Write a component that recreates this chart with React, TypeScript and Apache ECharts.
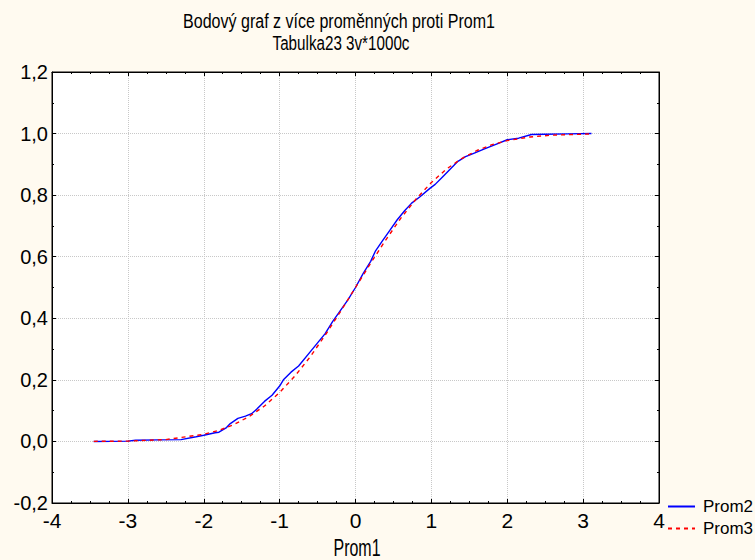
import React, { useEffect, useRef } from "react";
import * as echarts from "echarts";

const titleText = "Bodový graf z více proměnných proti Prom1";
const subtitleText = "Tabulka23 3v*1000c";
const xAxisName = "Prom1";
const seriesNames = ["Prom2", "Prom3"];

const prom1Blue = [-3.45, -3.0, -2.9, -2.6, -2.3, -2.1, -2.0, -1.85, -1.8, -1.7, -1.65, -1.55, -1.45, -1.37, -1.3, -1.2, -1.1, -1.0, -0.95, -0.85, -0.75, -0.6, -0.5, -0.4, -0.3, -0.2, -0.1, 0, 0.1, 0.2, 0.26, 0.35, 0.45, 0.55, 0.65, 0.74, 0.85, 0.98, 1.05, 1.15, 1.25, 1.35, 1.45, 1.55, 1.7, 1.85, 2.0, 2.15, 2.32, 2.5, 2.8, 3.11];
const prom2 = [0, 0.001, 0.004, 0.005, 0.006, 0.015, 0.02, 0.028, 0.03, 0.045, 0.058, 0.075, 0.082, 0.09, 0.105, 0.13, 0.15, 0.18, 0.2, 0.225, 0.245, 0.29, 0.32, 0.35, 0.39, 0.425, 0.46, 0.5, 0.545, 0.585, 0.617, 0.65, 0.685, 0.72, 0.75, 0.774, 0.795, 0.822, 0.835, 0.86, 0.885, 0.91, 0.925, 0.935, 0.95, 0.965, 0.98, 0.985, 0.997, 0.998, 0.999, 1.0];

const prom1Red = [-3.45, -3.0, -2.5, -2.0, -1.8, -1.6, -1.4, -1.2, -1.0, -0.8, -0.6, -0.4, -0.2, 0, 0.2, 0.4, 0.6, 0.8, 1.0, 1.2, 1.4, 1.6, 1.8, 2.0, 2.3, 2.6, 3.11];
const prom3 = [0.0003, 0.001, 0.006, 0.023, 0.036, 0.055, 0.081, 0.115, 0.159, 0.212, 0.274, 0.345, 0.421, 0.5, 0.579, 0.655, 0.726, 0.788, 0.841, 0.885, 0.919, 0.945, 0.964, 0.977, 0.989, 0.995, 0.999];

const xTicks = { min: -4, max: 4, interval: 1 };
const yTicks = { min: -0.2, max: 1.2, interval: 0.2 };

const FONT = "'Liberation Sans', Arial, sans-serif";
const BG = "#FFFAF0";

function measure(text: string, size: number): number {
  const c = document.createElement("canvas");
  const ctx = c.getContext("2d");
  if (!ctx) return text.length * size * 0.5;
  ctx.font = `${size}px ${FONT}`;
  return ctx.measureText(text).width;
}

function squeezedText(text: string, size: number, cx: number, cy: number, targetWidth: number) {
  const w = measure(text, size);
  return {
    type: "text",
    x: cx,
    y: cy,
    scaleX: targetWidth / w,
    scaleY: 1,
    silent: true,
    style: {
      text,
      fontFamily: FONT,
      fontSize: size,
      fill: "#000",
      align: "center",
      verticalAlign: "middle",
      textAlign: "center",
      textVerticalAlign: "middle",
    },
  };
}

export default function App() {
  const ref = useRef<HTMLDivElement>(null);
  useEffect(() => {
    if (!ref.current) return;
    document.body.style.margin = "0";
    const chart = echarts.init(ref.current, undefined, { renderer: "svg" });
    const fmtY = (v: number) => v.toFixed(1).replace(".", ",");
    const baseX = {
      type: "value" as const,
      min: xTicks.min,
      max: xTicks.max,
      interval: xTicks.interval,
    };
    const baseY = {
      type: "value" as const,
      min: yTicks.min,
      max: yTicks.max,
      interval: yTicks.interval,
    };
    const axisLine = { show: true, onZero: false, lineStyle: { color: "#000", width: 1 } };
    const tick = { show: true, inside: true, length: 4, lineStyle: { color: "#000" } };
    chart.setOption({
      animation: false,
      backgroundColor: BG,
      graphic: [
        squeezedText(titleText, 21, 339, 21, 312),
        squeezedText(subtitleText, 21, 341, 43, 137),
        squeezedText(xAxisName, 24, 357, 548, 47),
      ],
      legend: {
        orient: "vertical",
        left: 667,
        top: 497,
        itemWidth: 27,
        itemHeight: 12,
        itemGap: 3,
        padding: 0,
        itemStyle: { opacity: 0 },
        textStyle: { fontFamily: FONT, fontSize: 17, color: "#000", lineHeight: 19, padding: [0, 0, 0, 3] },
        data: seriesNames,
      },
      grid: {
        left: 52,
        right: 96,
        top: 72,
        bottom: 57,
        show: true,
        backgroundColor: "#fff",
        borderColor: "#000",
        borderWidth: 1,
      },
      xAxis: [
        {
          ...baseX,
          position: "bottom",
          axisLine,
          axisTick: tick,
          minorTick: { show: true, splitNumber: 4, length: 2, lineStyle: { color: "#000" } },
          axisLabel: { fontFamily: FONT, fontSize: 21, color: "#000", margin: 7 },
          splitLine: { show: true, lineStyle: { color: "#c8c8c8", type: "dotted", width: 1 } },
        },
        {
          ...baseX,
          position: "top",
          axisLine,
          axisTick: tick,
          minorTick: { show: true, splitNumber: 4, length: 2, lineStyle: { color: "#000" } },
          axisLabel: { show: false },
          splitLine: { show: false },
        },
      ],
      yAxis: [
        {
          ...baseY,
          position: "left",
          axisLine,
          axisTick: tick,
          minorTick: { show: true, splitNumber: 2, length: 2, lineStyle: { color: "#000" } },
          axisLabel: { fontFamily: FONT, fontSize: 20, color: "#000", margin: 4, formatter: fmtY },
          splitLine: { show: true, lineStyle: { color: "#c8c8c8", type: "dotted", width: 1 } },
        },
        {
          ...baseY,
          position: "right",
          axisLine,
          axisTick: tick,
          minorTick: { show: true, splitNumber: 2, length: 2, lineStyle: { color: "#000" } },
          axisLabel: { show: false },
          splitLine: { show: false },
        },
      ],
      series: [
        {
          name: seriesNames[0],
          type: "line",
          xAxisIndex: 0,
          yAxisIndex: 0,
          symbol: "none",
          z: 3,
          lineStyle: { color: "#0000ff", width: 1.4 },
          itemStyle: { color: "#0000ff" },
          data: prom1Blue.map((x, i) => [x, prom2[i]]),
        },
        {
          name: seriesNames[1],
          type: "line",
          xAxisIndex: 0,
          yAxisIndex: 0,
          symbol: "none",
          z: 4,
          lineStyle: { color: "#ff0000", width: 1.4, type: [4, 4] },
          itemStyle: { color: "#ff0000" },
          data: prom1Red.map((x, i) => [x, prom3[i]]),
        },
      ],
    });
    return () => chart.dispose();
  }, []);
  return (
    <div
      ref={ref}
      style={{ position: "fixed", left: 0, top: 0, width: 755, height: 560, background: BG }}
    />
  );
}
